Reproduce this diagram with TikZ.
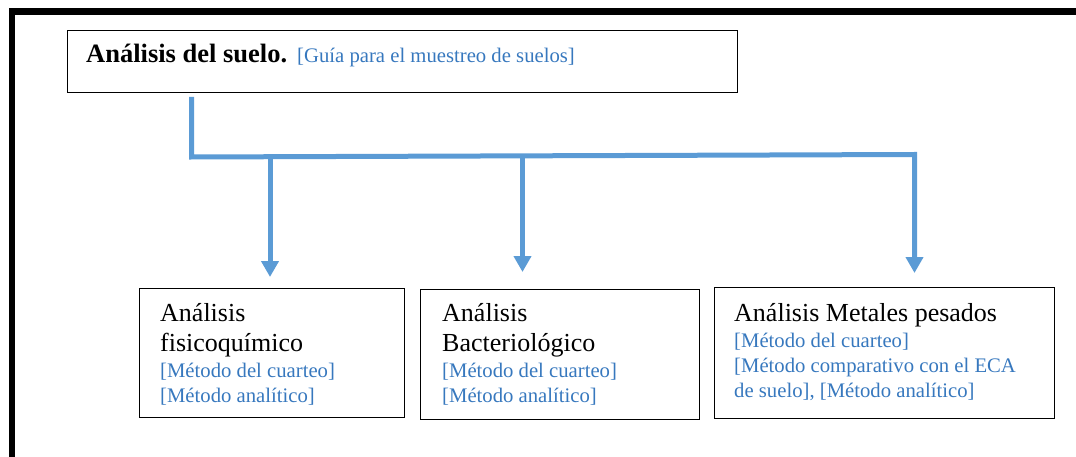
\documentclass[tikz,border=0pt]{standalone}
\usepackage{fontspec}
\setmainfont{Liberation Serif}
\usetikzlibrary{arrows.meta, positioning}
\definecolor{conector}{RGB}{91,155,213}
\definecolor{azul}{RGB}{55,120,190}

\begin{document}
\begin{tikzpicture}[x=1pt, y=-1pt,
  caja/.style={draw=black, line width=1.4pt, inner sep=0pt, anchor=north west},
  titulo/.style={inner sep=0pt, anchor=base west, font=\fontsize{26}{30}\selectfont},
  metodo/.style={inner sep=0pt, anchor=base west, text=azul, font=\fontsize{20.7}{25}\selectfont},
  flecha/.style={draw=conector, line width=5pt, line join=miter, -{Triangle[width=17pt, length=16pt]}}]
  \useasboundingbox (0,0) rectangle (1076,457);

  % frame
  \draw[line width=6.5pt, line join=miter] (12,457) -- (12,11.5) -- (1076,11.5);

  % boxes
  \node[caja, minimum width=670pt, minimum height=62pt] (suelo) at (67,30) {};
  \node[caja, minimum width=265pt, minimum height=129pt] (fisico) at (139,288) {};
  \node[caja, minimum width=279pt, minimum height=130pt] (bacterio) at (420,289) {};
  \node[caja, minimum width=340pt, minimum height=131pt] (metales) at (714,287) {};

  % texts
  \node[titulo, font=\fontsize{26.5}{30}\selectfont\bfseries] (tsuelo) at (86,63) {Análisis del suelo.};
  \node[metodo] (guia) at (297,63) {[Guía para el muestreo de suelos]};

  \node[titulo] (tfisico1) at (160,321) {Análisis};
  \node[titulo] (tfisico2) at (160,351) {fisicoquímico};
  \node[metodo] (mfisico1) at (160,377) {[Método del cuarteo]};
  \node[metodo] (mfisico2) at (160,402) {[Método analítico]};

  \node[titulo] (tbacterio1) at (442,321) {Análisis};
  \node[titulo] (tbacterio2) at (442,351) {Bacteriológico};
  \node[metodo] (mbacterio1) at (442,377) {[Método del cuarteo]};
  \node[metodo] (mbacterio2) at (442,402) {[Método analítico]};

  \node[titulo] (tmetales) at (734,321) {Análisis Metales pesados};
  \node[metodo] (mmetales1) at (734,347) {[Método del cuarteo]};
  \node[metodo] (mmetales2) at (734,372) {[Método comparativo con el ECA};
  \node[metodo] (mmetales3) at (734,397) {de suelo], [Método analítico]};

  % connectors
  \coordinate (tronco) at (191.5,97);
  \coordinate (codo) at (191.5,157);
  \coordinate (esquina) at (914.5,154.5);
  \coordinate (j1) at (270,156.7);
  \coordinate (j2) at (522.5,155.9);
  \coordinate (t1) at (270,277);
  \coordinate (t2) at (522.5,272);
  \coordinate (t3) at (914.5,273);

  \draw[flecha] (tronco) -- (codo) -- (esquina) -- (t3);
  \draw[flecha] (j1) -- (t1);
  \draw[flecha] (j2) -- (t2);
\end{tikzpicture}
\end{document}
